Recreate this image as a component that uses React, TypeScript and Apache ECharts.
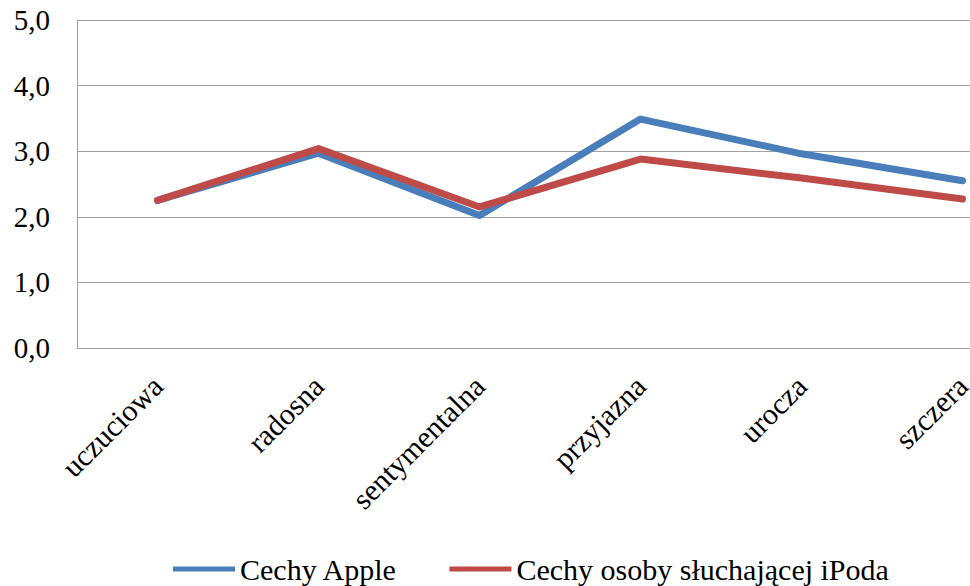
import React, { useEffect, useRef } from "react";
import * as echarts from "echarts";

const categories = ["uczuciowa", "radosna", "sentymentalna", "przyjazna", "urocza", "szczera"];
const appleValues = [2.25, 2.97, 2.02, 3.49, 2.96, 2.55];
const ipodValues = [2.25, 3.04, 2.15, 2.88, 2.59, 2.27];
const seriesNames = ["Cechy Apple", "Cechy osoby słuchającej iPoda"];
const yTicks = [0, 1, 2, 3, 4, 5];

const FONT = "'Liberation Serif', 'Times New Roman', serif";

export default function App() {
  const ref = useRef<HTMLDivElement>(null);
  useEffect(() => {
    if (!ref.current) return;
    const chart = echarts.init(ref.current, null, { renderer: "svg" });
    chart.setOption({
      animation: false,
      backgroundColor: "#ffffff",
      grid: { left: 77, top: 20, right: 7, height: 328 },
      legend: {
        left: 168,
        top: 549,
        icon: "rect",
        itemWidth: 62,
        itemHeight: 5,
        itemGap: 52,
        textStyle: { fontFamily: FONT, fontSize: 30, color: "#000" },
        data: seriesNames,
      },
      xAxis: {
        type: "category",
        data: categories,
        boundaryGap: true,
        axisLine: { show: true, lineStyle: { color: "#a0a0a0", width: 1 } },
        axisTick: { show: false },
        axisLabel: {
          rotate: 45,
          margin: 33,
          interval: 0,
          fontFamily: FONT,
          fontSize: 30,
          color: "#000",
        },
      },
      yAxis: {
        type: "value",
        min: yTicks[0],
        max: yTicks[yTicks.length - 1],
        interval: 1,
        axisLine: { show: true, lineStyle: { color: "#a0a0a0", width: 1 } },
        axisTick: { show: false },
        splitLine: { show: true, lineStyle: { color: "#a0a0a0", width: 1 } },
        axisLabel: {
          margin: 27,
          fontFamily: FONT,
          fontSize: 29,
          color: "#000",
          formatter: (v: number) => v.toFixed(1).replace(".", ","),
        },
      },
      series: [
        {
          name: seriesNames[0],
          type: "line",
          data: appleValues,
          symbol: "none",
          color: "#4a7ebb",
          lineStyle: { width: 7, color: "#4a7ebb", cap: "round", join: "round" },
        },
        {
          name: seriesNames[1],
          type: "line",
          data: ipodValues,
          symbol: "none",
          color: "#be4b48",
          lineStyle: { width: 7, color: "#be4b48", cap: "round", join: "round" },
        },
      ],
    });
    return () => chart.dispose();
  }, []);
  return (
    <div style={{ position: "fixed", left: 0, top: 0, width: 970, height: 586, overflow: "hidden", background: "#fff" }}>
      <div ref={ref} style={{ width: 1050, height: 586 }} />
    </div>
  );
}
